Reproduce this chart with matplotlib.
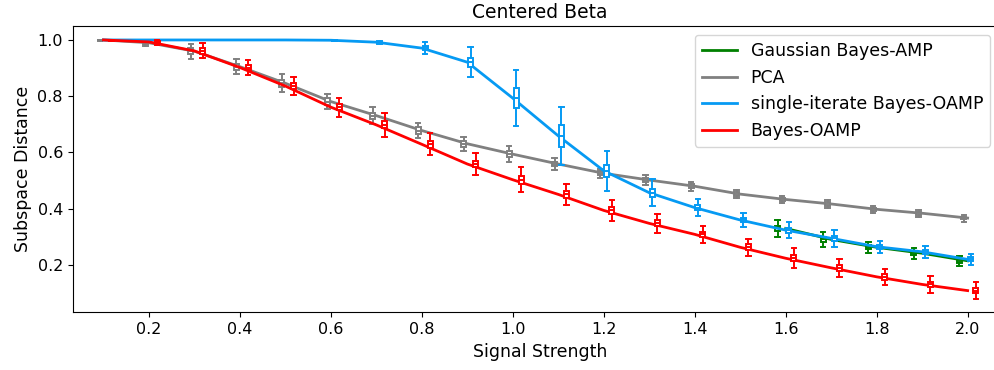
import numpy as np
import matplotlib
matplotlib.use("Agg")
import matplotlib.pyplot as plt

# ------------------------------------------------------------
# Data
# ------------------------------------------------------------
signal = [0.1, 0.2, 0.3, 0.4, 0.5, 0.6, 0.7, 0.8, 0.9, 1.0,
          1.1, 1.2, 1.3, 1.4, 1.5, 1.6, 1.7, 1.8, 1.9, 2.0]

# PCA
pca_med = [1.0, 0.99, 0.96, 0.905, 0.846, 0.781, 0.731, 0.678, 0.631, 0.594,
           0.559, 0.526, 0.502, 0.480, 0.452, 0.433, 0.417, 0.398, 0.384, 0.367]
pca_whisk = [0.004, 0.02, 0.053, 0.052, 0.063, 0.056, 0.059, 0.056, 0.05, 0.056,
             0.041, 0.032, 0.033, 0.032, 0.03, 0.028, 0.028, 0.026, 0.025, 0.025]
pca_box = [0.002, 0.008, 0.02, 0.02, 0.024, 0.022, 0.022, 0.022, 0.02, 0.022,
           0.016, 0.013, 0.013, 0.013, 0.012, 0.011, 0.011, 0.01, 0.01, 0.01]

# single-iterate Bayes-OAMP
single_med = [1.0, 1.0, 1.0, 1.0, 1.0, 0.999, 0.992, 0.971, 0.921, 0.793,
              0.659, 0.535, 0.457, 0.404, 0.360, 0.324, 0.295, 0.265, 0.247, 0.220]
single_whisk = [0.0, 0.0, 0.0, 0.0, 0.002, 0.004, 0.01, 0.042, 0.107, 0.197,
                0.205, 0.142, 0.097, 0.063, 0.05, 0.059, 0.059, 0.044, 0.041, 0.041]
single_box = [0.0, 0.0, 0.0, 0.0, 0.001, 0.002, 0.004, 0.014, 0.032, 0.071,
              0.077, 0.041, 0.03, 0.018, 0.016, 0.018, 0.018, 0.015, 0.014, 0.014]

# Bayes-OAMP
oamp_med = [1.0, 0.993, 0.961, 0.902, 0.836, 0.761, 0.698, 0.629, 0.559, 0.503,
            0.451, 0.394, 0.348, 0.309, 0.263, 0.224, 0.190, 0.158, 0.131, 0.109]
oamp_whisk = [0.004, 0.024, 0.053, 0.056, 0.066, 0.068, 0.083, 0.079, 0.075, 0.089,
              0.076, 0.072, 0.07, 0.06, 0.062, 0.071, 0.064, 0.057, 0.062, 0.062]
oamp_box = [0.002, 0.01, 0.02, 0.02, 0.022, 0.022, 0.025, 0.025, 0.024, 0.028,
            0.025, 0.024, 0.022, 0.02, 0.02, 0.022, 0.02, 0.02, 0.02, 0.02]

# Gaussian Bayes-AMP (only for the larger signal strengths)
gauss_signal = [1.6, 1.7, 1.8, 1.9, 2.0]
gauss_med = [0.330, 0.291, 0.263, 0.242, 0.215]
gauss_whisk = [0.059, 0.051, 0.039, 0.040, 0.036]
gauss_box = [0.02, 0.018, 0.014, 0.014, 0.013]


# ------------------------------------------------------------
# Plot helpers
# ------------------------------------------------------------
def box_stats(med, box, whisk):
    stats = []
    for m, b, w in zip(med, box, whisk):
        stats.append({
            "med": m,
            "q1": m - b / 2,
            "q3": min(m + b / 2, 1.0),
            "whislo": m - w / 2,
            "whishi": min(m + w / 2, 1.0),
            "fliers": [],
        })
    return stats


def draw_method(ax, x, med, box, whisk, color, label, offset, zorder):
    ax.plot(x, med, color=color, linewidth=2, label=label, zorder=zorder)
    pos = np.asarray(x) + offset
    line_kw = dict(color=color, linewidth=1.4)
    ax.bxp(
        box_stats(med, box, whisk),
        positions=pos,
        widths=0.011,
        capwidths=0.01,
        patch_artist=True,
        showfliers=False,
        manage_ticks=False,
        boxprops=dict(facecolor="white", edgecolor=color, linewidth=1.4),
        medianprops=line_kw,
        whiskerprops=line_kw,
        capprops=line_kw,
        zorder=zorder + 0.5,
    )


# ------------------------------------------------------------
# Figure
# ------------------------------------------------------------
fig = plt.figure(figsize=(9.94, 3.70), dpi=100)
# right edge of the axes runs past the figure border, as in the reference
ax = fig.add_axes([0.0731, 0.156, 0.94, 0.774])
ax.spines["right"].set_visible(False)

draw_method(ax, gauss_signal, gauss_med, gauss_box, gauss_whisk,
            "green", "Gaussian Bayes-AMP", -0.018, 2)
draw_method(ax, signal, pca_med, pca_box, pca_whisk,
            "gray", "PCA", -0.008, 3)
draw_method(ax, signal, single_med, single_box, single_whisk,
            "#069AF3", "single-iterate Bayes-OAMP", 0.007, 4)
draw_method(ax, signal, oamp_med, oamp_box, oamp_whisk,
            "red", "Bayes-OAMP", 0.018, 5)

ax.set_xlim(0.0322, 2.0866)
ax.set_ylim(0.032, 1.05)
ax.set_xticks([0.2, 0.4, 0.6, 0.8, 1.0, 1.2, 1.4, 1.6, 1.8, 2.0])
ax.set_yticks([0.2, 0.4, 0.6, 0.8, 1.0])
ax.tick_params(labelsize=11.5)

ax.set_title("Centered Beta", fontsize=13.5)
ax.set_xlabel("Signal Strength", fontsize=12.5)
ax.set_ylabel("Subspace Distance", fontsize=12.5)

ax.legend(loc="upper right", fontsize=12.5,
          bbox_to_anchor=(990 / 994, 1 - 35 / 370),
          bbox_transform=fig.transFigure, borderaxespad=0)

fig.savefig("out.png", dpi=100)
